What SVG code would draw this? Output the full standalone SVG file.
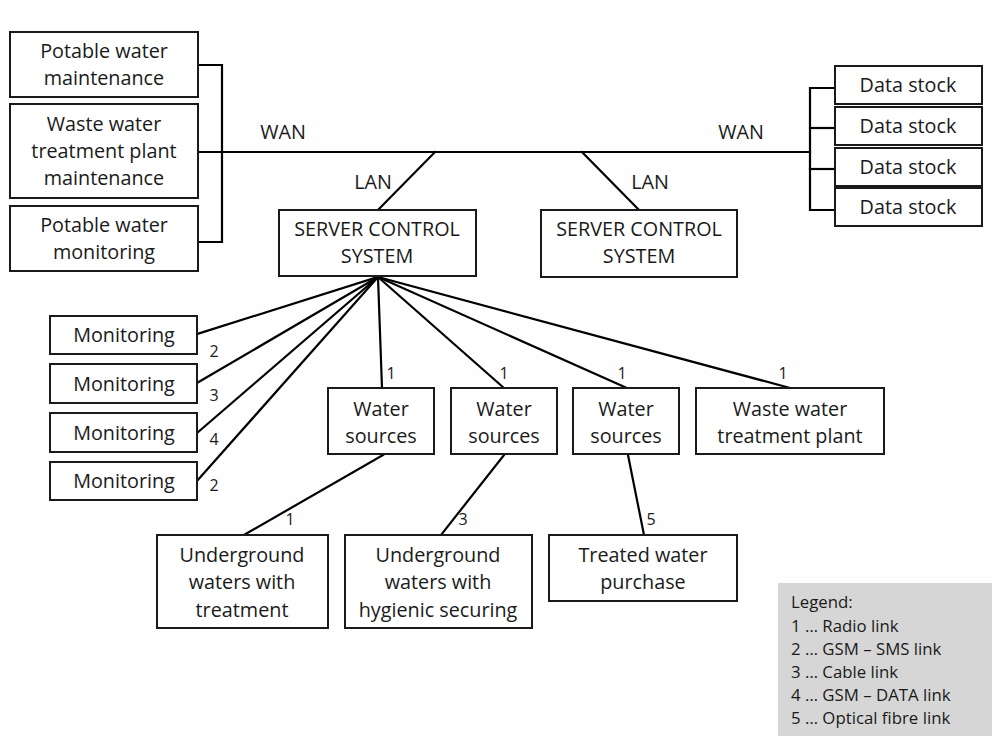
<svg xmlns="http://www.w3.org/2000/svg" width="992" height="736" viewBox="0 0 992 736">
<style>
.box{fill:#ffffff;stroke:#1a1a1a;stroke-width:2}
.ln{fill:none;stroke:#000000;stroke-width:2.2;stroke-linecap:square}
text{font-family:"Open Sans","Liberation Sans",sans-serif;fill:#1a1a1a}
.t{font-size:19.8px;text-anchor:middle}
.n{font-size:16px;text-anchor:middle}
.lg{font-size:16.8px}
</style>
<rect x="0" y="0" width="992" height="736" fill="#fdfefd"/>
<g id="connectors">
<polyline class="ln" points="198,65 222,65 222,242 198,242"/>
<line class="ln" x1="198" y1="152" x2="810" y2="152"/>
<polyline class="ln" points="835,88 810,88 810,210 835,210"/>
<line class="ln" x1="810" y1="128" x2="835" y2="128"/>
<line class="ln" x1="810" y1="169" x2="835" y2="169"/>
<line class="ln" x1="435" y1="152" x2="378" y2="210"/>
<line class="ln" x1="582" y1="152" x2="639" y2="210"/>
<line class="ln" x1="378" y1="277" x2="197" y2="334"/>
<line class="ln" x1="378" y1="277" x2="197" y2="383"/>
<line class="ln" x1="378" y1="277" x2="197" y2="433"/>
<line class="ln" x1="378" y1="277" x2="197" y2="481"/>
<line class="ln" x1="378" y1="277" x2="382" y2="388"/>
<line class="ln" x1="378" y1="277" x2="504" y2="388"/>
<line class="ln" x1="378" y1="277" x2="627" y2="388"/>
<line class="ln" x1="378" y1="277" x2="790" y2="388"/>
<line class="ln" x1="383" y1="455" x2="244" y2="535"/>
<line class="ln" x1="504" y1="455" x2="441" y2="535"/>
<line class="ln" x1="628" y1="455" x2="644" y2="535"/>
<text class="t" x="283" y="139">WAN</text>
<text class="t" x="741" y="139">WAN</text>
<text class="t" x="373" y="189">LAN</text>
<text class="t" x="650" y="189">LAN</text>
<text class="n" x="214" y="357">2</text>
<text class="n" x="214" y="401">3</text>
<text class="n" x="214" y="445">4</text>
<text class="n" x="214" y="491">2</text>
<text class="n" x="391" y="379">1</text>
<text class="n" x="504" y="379">1</text>
<text class="n" x="622" y="379">1</text>
<text class="n" x="783" y="379">1</text>
<text class="n" x="290" y="525">1</text>
<text class="n" x="463" y="525">3</text>
<text class="n" x="651" y="525">5</text>
</g>
<g id="potable-maintenance"><rect class="box" x="10" y="32" width="188" height="65"/><text class="t" x="104" y="58">Potable water</text><text class="t" x="104" y="85">maintenance</text></g>
<g id="wwtp-maintenance"><rect class="box" x="10" y="104" width="188" height="94"/><text class="t" x="104" y="131">Waste water</text><text class="t" x="104" y="158">treatment plant</text><text class="t" x="104" y="185">maintenance</text></g>
<g id="potable-monitoring"><rect class="box" x="10" y="206" width="188" height="65"/><text class="t" x="104" y="232">Potable water</text><text class="t" x="104" y="259">monitoring</text></g>
<g id="data-stock-1"><rect class="box" x="835" y="66" width="147" height="38"/><text class="t" x="908" y="92">Data stock</text></g>
<g id="data-stock-2"><rect class="box" x="835" y="107" width="147" height="38"/><text class="t" x="908" y="133">Data stock</text></g>
<g id="data-stock-3"><rect class="box" x="835" y="148" width="147" height="38"/><text class="t" x="908" y="174">Data stock</text></g>
<g id="data-stock-4"><rect class="box" x="835" y="188" width="147" height="38"/><text class="t" x="908" y="214">Data stock</text></g>
<g id="server-1"><rect class="box" x="279" y="210" width="197" height="66"/><text class="t" x="377" y="236">SERVER CONTROL</text><text class="t" x="377" y="263">SYSTEM</text></g>
<g id="server-2"><rect class="box" x="541" y="210" width="196" height="67"/><text class="t" x="639" y="236">SERVER CONTROL</text><text class="t" x="639" y="263">SYSTEM</text></g>
<g id="monitoring-1"><rect class="box" x="50" y="316" width="147" height="38"/><text class="t" x="124" y="342">Monitoring</text></g>
<g id="monitoring-2"><rect class="box" x="50" y="364" width="147" height="39"/><text class="t" x="124" y="391">Monitoring</text></g>
<g id="monitoring-3"><rect class="box" x="50" y="413" width="147" height="39"/><text class="t" x="124" y="440">Monitoring</text></g>
<g id="monitoring-4"><rect class="box" x="50" y="462" width="147" height="38"/><text class="t" x="124" y="488">Monitoring</text></g>
<g id="water-sources-1"><rect class="box" x="328" y="388" width="106" height="66"/><text class="t" x="381" y="416">Water</text><text class="t" x="381" y="443">sources</text></g>
<g id="water-sources-2"><rect class="box" x="451" y="388" width="106" height="66"/><text class="t" x="504" y="416">Water</text><text class="t" x="504" y="443">sources</text></g>
<g id="water-sources-3"><rect class="box" x="573" y="388" width="106" height="66"/><text class="t" x="626" y="416">Water</text><text class="t" x="626" y="443">sources</text></g>
<g id="wwtp"><rect class="box" x="696" y="388" width="188" height="66"/><text class="t" x="790" y="416">Waste water</text><text class="t" x="790" y="443">treatment plant</text></g>
<g id="underground-treatment"><rect class="box" x="157" y="535" width="171" height="93"/><text class="t" x="242" y="562">Underground</text><text class="t" x="242" y="589">waters with</text><text class="t" x="242" y="617">treatment</text></g>
<g id="underground-hygienic"><rect class="box" x="345" y="535" width="187" height="93"/><text class="t" x="438" y="562">Underground</text><text class="t" x="438" y="589">waters with</text><text class="t" x="438" y="617">hygienic securing</text></g>
<g id="treated-water"><rect class="box" x="549" y="535" width="188" height="66"/><text class="t" x="643" y="562">Treated water</text><text class="t" x="643" y="589">purchase</text></g>
<g id="legend"><rect x="778" y="583" width="214" height="153" fill="#d6d6d6"/>
<text class="lg" x="791" y="608">Legend:</text>
<text class="lg" x="791" y="632">1 … Radio link</text>
<text class="lg" x="791" y="655">2 … GSM – SMS link</text>
<text class="lg" x="791" y="678">3 … Cable link</text>
<text class="lg" x="791" y="701">4 … GSM – DATA link</text>
<text class="lg" x="791" y="724">5 … Optical fibre link</text>
</g>
</svg>
